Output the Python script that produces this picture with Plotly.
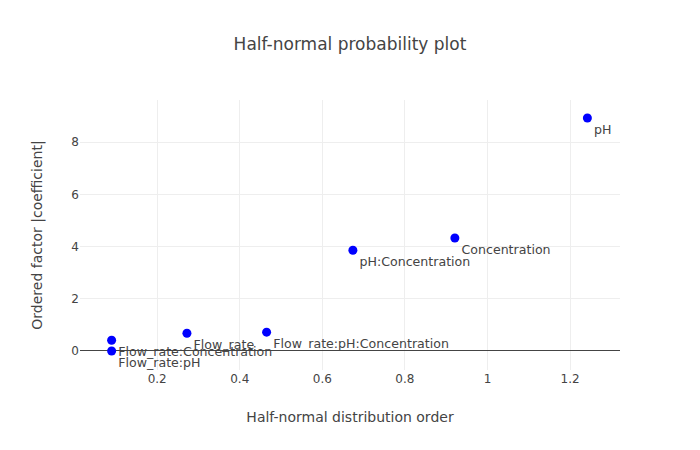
import plotly.graph_objects as go

labels = ["Flow_rate:pH", "Flow_rate:Concentration", "Flow_rate",
          "Flow_rate:pH:Concentration", "pH:Concentration", "Concentration", "pH"]
x_order = [0.0896, 0.0896, 0.272, 0.465, 0.674, 0.921, 1.242]
y_coef = [0.0, 0.41, 0.68, 0.72, 3.86, 4.33, 8.93]

fig = go.Figure(go.Scatter(
    x=x_order, y=y_coef, mode="markers+text", text=labels,
    textposition="bottom right",
    textfont=dict(size=12.6),
    marker=dict(color="blue", size=9),
))
fig.update_layout(
    template="none",
    width=700, height=450,
    font=dict(family="DejaVu Sans", color="#444"),
    title=dict(text="Half-normal probability plot", x=0.5),
    xaxis=dict(title=dict(text="Half-normal distribution order"), range=[0.013, 1.321]),
    yaxis=dict(title=dict(text="Ordered factor |coefficient|"), range=[-0.73, 9.62]),
    showlegend=False,
)
fig.write_html("out.html", config={"displayModeBar": False},
               post_script="document.body.style.margin='0';")
